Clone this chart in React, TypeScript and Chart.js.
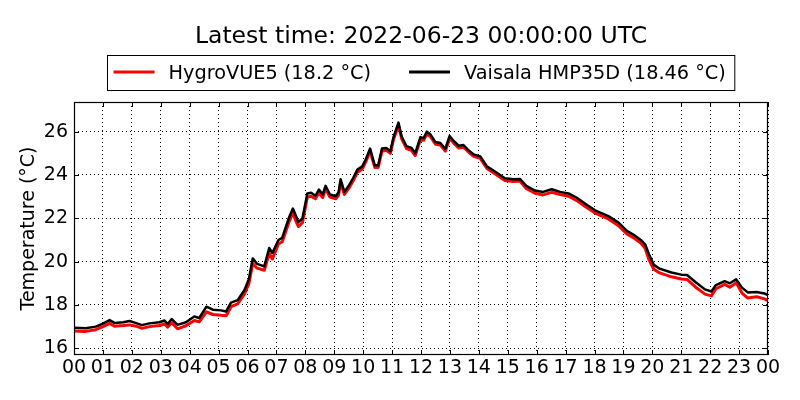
import React, { useEffect, useRef } from 'react';
import { Chart, registerables } from 'chart.js';

Chart.register(...registerables);

// Hours since 2022-06-22 00:00 UTC
const hours = [
  0.0, 0.4, 0.75, 1.0, 1.23, 1.4, 1.7, 1.92, 2.15, 2.35, 2.6, 2.95, 3.13, 3.24, 3.38, 3.58, 3.87,
  4.16, 4.33, 4.58, 4.8, 5.08, 5.26, 5.43, 5.66, 5.9, 6.05, 6.18, 6.33, 6.58, 6.75, 6.86, 7.07,
  7.2, 7.44, 7.57, 7.68, 7.76, 7.9, 8.07, 8.2, 8.35, 8.47, 8.6, 8.7, 8.85, 9.05, 9.15, 9.22,
  9.35, 9.5, 9.65, 9.8, 9.97, 10.1, 10.24, 10.4, 10.52, 10.65, 10.8, 10.94, 11.05, 11.22, 11.33,
  11.5, 11.67, 11.8, 11.98, 12.09, 12.2, 12.32, 12.5, 12.67, 12.84, 12.99, 13.13, 13.3, 13.47,
  13.64, 13.82, 14.05, 14.28, 14.57, 14.9, 15.2, 15.42, 15.64, 15.94, 16.22, 16.52, 16.81, 17.1,
  17.39, 17.68, 18.02, 18.48, 18.83, 19.12, 19.4, 19.6, 19.75, 19.88, 20.05, 20.25, 20.66, 21.0,
  21.2, 21.5, 21.82, 22.04, 22.2, 22.5, 22.68, 22.9, 23.1, 23.3, 23.6, 23.88, 24.0,
];

const hygroVUE5 = [
  16.8, 16.78, 16.86, 17.0, 17.15, 17.02, 17.05, 17.08, 17.02, 16.92, 17.0, 17.05, 17.12, 16.98,
  17.18, 16.9, 17.04, 17.28, 17.22, 17.68, 17.56, 17.52, 17.5, 17.92, 18.05, 18.52, 19.0, 19.92,
  19.7, 19.6, 20.38, 20.12, 20.82, 20.92, 21.85, 22.25, 21.85, 21.62, 21.8, 22.98, 23.02, 22.9,
  23.18, 22.96, 23.36, 22.98, 22.9, 23.06, 23.66, 23.1, 23.38, 23.72, 24.12, 24.28, 24.64, 25.1,
  24.35, 24.35, 25.1, 25.14, 25.0, 25.64, 26.3, 25.68, 25.22, 25.14, 24.9, 25.64, 25.6, 25.9,
  25.78, 25.42, 25.38, 25.1, 25.7, 25.47, 25.25, 25.28, 25.06, 24.86, 24.77, 24.3, 24.05, 23.75,
  23.7, 23.72, 23.38, 23.16, 23.08, 23.2, 23.1, 23.02, 22.82, 22.54, 22.24, 21.97, 21.66, 21.28,
  21.06, 20.86, 20.62, 20.1, 19.65, 19.48, 19.3, 19.2, 19.18, 18.82, 18.5, 18.42, 18.75, 18.95,
  18.82, 19.02, 18.55, 18.32, 18.38, 18.28, 18.2,
];

const vaisalaHMP35D = [
  16.95, 16.93, 17.0, 17.14, 17.3, 17.17, 17.2, 17.26, 17.16, 17.07, 17.15, 17.2, 17.28, 17.12,
  17.35, 17.08, 17.2, 17.47, 17.4, 17.92, 17.78, 17.75, 17.7, 18.11, 18.22, 18.7, 19.2, 20.15,
  19.9, 19.78, 20.63, 20.4, 21.0, 21.1, 22.05, 22.45, 22.1, 21.82, 22.0, 23.15, 23.18, 23.04,
  23.33, 23.1, 23.5, 23.1, 23.02, 23.2, 23.8, 23.22, 23.5, 23.85, 24.25, 24.4, 24.75, 25.22,
  24.45, 24.45, 25.22, 25.25, 25.1, 25.75, 26.42, 25.78, 25.33, 25.25, 25.0, 25.75, 25.7, 26.0,
  25.88, 25.52, 25.48, 25.2, 25.8, 25.57, 25.35, 25.38, 25.15, 24.95, 24.86, 24.4, 24.15, 23.85,
  23.8, 23.82, 23.5, 23.28, 23.22, 23.34, 23.22, 23.15, 22.95, 22.67, 22.37, 22.1, 21.8, 21.42,
  21.2, 21.0, 20.8, 20.35, 19.85, 19.68, 19.5, 19.4, 19.38, 19.05, 18.72, 18.62, 18.92, 19.1,
  19.0, 19.18, 18.8, 18.58, 18.6, 18.53, 18.46,
];

const xTickHours = [0, 1, 2, 3, 4, 5, 6, 7, 8, 9, 10, 11, 12, 13, 14, 15, 16, 17, 18, 19, 20, 21, 22, 23, 24];
const xTickLabels = [
  '00', '01', '02', '03', '04', '05', '06', '07', '08', '09', '10', '11', '12',
  '13', '14', '15', '16', '17', '18', '19', '20', '21', '22', '23', '00',
];
const yTickValues = [16, 18, 20, 22, 24, 26];
const yMin = 15.69;
const yMax = 27.37;

const titleText = 'Latest time: 2022-06-23 00:00:00 UTC';
const yAxisTitle = 'Temperature (°C)';
const seriesNames = ['HygroVUE5 (18.2 °C)', 'Vaisala HMP35D (18.46 °C)'];
const seriesColors = ['#ff0000', '#000000'];

const FONT = '"DejaVu Sans", "Liberation Sans", sans-serif';

export default function App() {
  const ref = useRef<HTMLCanvasElement>(null);

  useEffect(() => {
    const canvas = ref.current;
    if (!canvas) return;

    const decor = {
      id: 'decor',
      afterDraw(chart: any) {
        const { ctx, chartArea: a } = chart;
        const xs = chart.scales.x;
        const ys = chart.scales.y;
        ctx.save();

        // inward tick marks on all four sides
        ctx.strokeStyle = '#000';
        ctx.lineWidth = 1;
        ctx.setLineDash([]);
        ctx.beginPath();
        xTickHours.forEach((h) => {
          const px = Math.round(xs.getPixelForValue(h)) + 0.5;
          ctx.moveTo(px, a.bottom);
          ctx.lineTo(px, a.bottom - 5);
          ctx.moveTo(px, a.top);
          ctx.lineTo(px, a.top + 5);
        });
        yTickValues.forEach((v) => {
          const py = Math.round(ys.getPixelForValue(v)) + 0.5;
          ctx.moveTo(a.left, py);
          ctx.lineTo(a.left + 5, py);
          ctx.moveTo(a.right, py);
          ctx.lineTo(a.right - 5, py);
        });
        ctx.stroke();

        // frame
        ctx.lineWidth = 1.2;
        ctx.strokeRect(a.left + 0.5, a.top + 0.5, a.right - a.left - 1, a.bottom - a.top - 1);

        // title
        const cx = (a.left + a.right) / 2;
        ctx.fillStyle = '#000';
        ctx.font = `23.5px ${FONT}`;
        ctx.textAlign = 'center';
        ctx.textBaseline = 'alphabetic';
        ctx.fillText(titleText, cx, 43);

        // legend
        ctx.font = `19.3px ${FONT}`;
        ctx.textAlign = 'left';
        const w1 = ctx.measureText(seriesNames[0]).width;
        const w2 = ctx.measureText(seriesNames[1]).width;
        const padL = 6, lineLen = 41, gapLT = 14, gapItems = 38, padR = 9;
        const boxW = padL + lineLen + gapLT + w1 + gapItems + lineLen + gapLT + w2 + padR;
        const bx = Math.round(cx - boxW / 2) + 0.5;
        const by = 55.5;
        const bh = 35;
        ctx.lineWidth = 1;
        ctx.strokeStyle = '#000';
        ctx.strokeRect(bx, by, boxW, bh);
        const ly = 72;
        let x = bx + padL;
        [w1, w2].forEach((w, i) => {
          ctx.strokeStyle = seriesColors[i];
          ctx.lineWidth = 3;
          ctx.beginPath();
          ctx.moveTo(x, ly);
          ctx.lineTo(x + lineLen, ly);
          ctx.stroke();
          ctx.fillStyle = '#000';
          ctx.fillText(seriesNames[i], x + lineLen + gapLT, 78.5);
          x += lineLen + gapLT + w + gapItems;
        });

        ctx.restore();
      },
    };

    const chart = new Chart(canvas, {
      type: 'line',
      data: {
        datasets: [
          {
            label: seriesNames[0],
            data: hours.map((h, i) => ({ x: h, y: hygroVUE5[i] })),
            borderColor: seriesColors[0],
            backgroundColor: seriesColors[0],
            borderWidth: 3,
            pointRadius: 0,
            tension: 0,
            borderJoinStyle: 'round',
            order: 2,
          },
          {
            label: seriesNames[1],
            data: hours.map((h, i) => ({ x: h, y: vaisalaHMP35D[i] })),
            borderColor: seriesColors[1],
            backgroundColor: seriesColors[1],
            borderWidth: 2.5,
            pointRadius: 0,
            tension: 0,
            borderJoinStyle: 'round',
            order: 1,
          },
        ],
      },
      options: {
        responsive: false,
        animation: false,
        events: [],
        layout: { padding: { left: 0, right: 32, top: 102, bottom: 0 } },
        plugins: {
          legend: { display: false },
          title: { display: false },
          tooltip: { enabled: false },
        },
        scales: {
          x: {
            type: 'linear',
            min: 0,
            max: 24,
            afterFit: (s: any) => {
              s.height = 45;
            },
            afterBuildTicks: (s: any) => {
              s.ticks = xTickHours.map((v) => ({ value: v }));
            },
            ticks: {
              autoSkip: false,
              maxRotation: 0,
              padding: 2,
              color: '#000',
              font: { family: FONT, size: 19 },
              callback: (v: any) => xTickLabels[xTickHours.indexOf(Number(v))] ?? '',
            },
            grid: { color: '#000', lineWidth: 1, drawTicks: false },
            border: { display: false, dash: [1, 3] },
          },
          y: {
            type: 'linear',
            min: yMin,
            max: yMax,
            afterFit: (s: any) => {
              s.width = 74;
            },
            afterBuildTicks: (s: any) => {
              s.ticks = yTickValues.map((v) => ({ value: v }));
            },
            ticks: {
              padding: 6,
              color: '#000',
              font: { family: FONT, size: 19 },
              callback: (v: any) => String(v),
            },
            grid: { color: '#000', lineWidth: 1, drawTicks: false },
            border: { display: false, dash: [1, 3] },
            title: {
              display: true,
              text: yAxisTitle,
              color: '#000',
              font: { family: FONT, size: 19 },
              padding: { top: 18, bottom: 0 },
            },
          },
        },
      },
      plugins: [decor],
    });

    return () => chart.destroy();
  }, []);

  return (
    <div style={{ position: 'fixed', left: 0, top: 0, width: 800, height: 400, background: '#fff' }}>
      <canvas ref={ref} width={800} height={400} style={{ width: 800, height: 400, display: 'block' }} />
    </div>
  );
}
